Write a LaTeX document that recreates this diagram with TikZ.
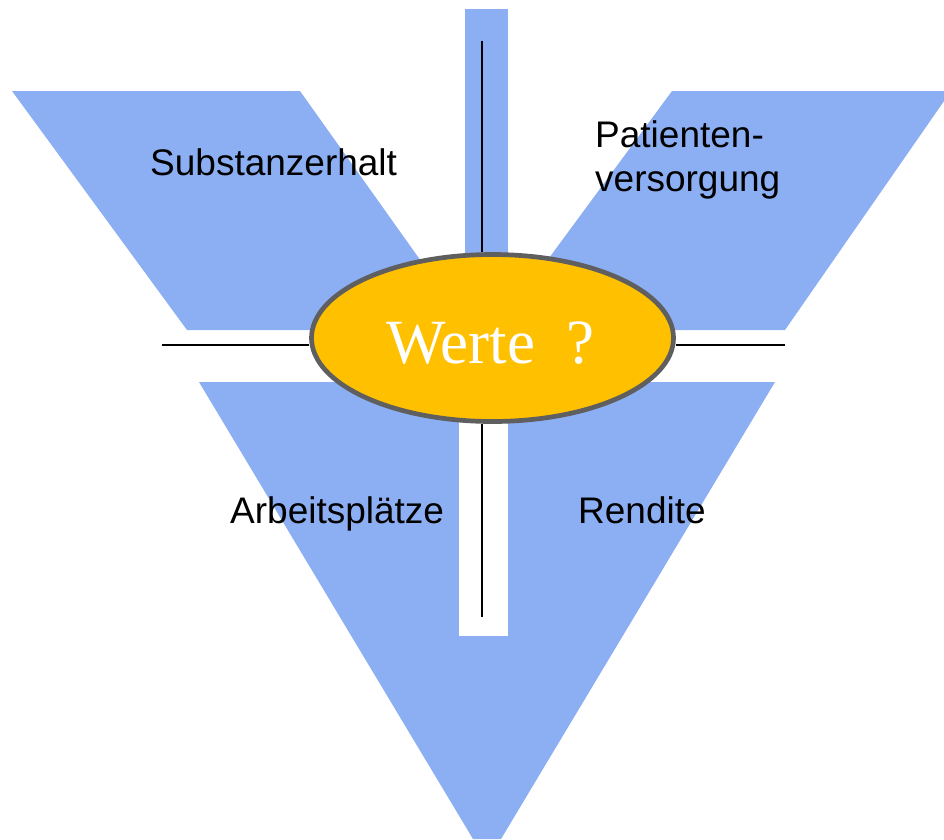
\documentclass[tikz,border=0pt]{standalone}
\usepackage{fontspec}
\setmainfont{Liberation Serif}
\newfontfamily\arialf{Liberation Sans}
\usetikzlibrary{shapes.geometric}
\definecolor{petal}{RGB}{140,175,244}
\definecolor{werteorange}{RGB}{255,192,0}
\definecolor{rimgray}{RGB}{95,95,95}
\pgfdeclarelayer{bg}
\pgfdeclarelayer{ln}
\pgfsetlayers{bg,ln,main}
\begin{document}
\begin{tikzpicture}[x=1pt,y=-1pt,
  petalfill/.style={fill=petal,draw=none},
  axisline/.style={draw=black,line width=1.6pt},
  lbl/.style={font=\arialf\fontsize{37}{44}\selectfont,anchor=base west,inner sep=0pt,text=black}]
\useasboundingbox (0,0) rectangle (944,839);

% centre ellipse
\node[ellipse,draw=rimgray,line width=4.7pt,fill=werteorange,
      minimum width=362pt,minimum height=167pt,inner sep=0pt] (ell) at (492.5,338) {};
\node[anchor=base west,inner sep=0pt,text=white,font=\fontsize{63}{70}\selectfont] (werte) at (386,363) {Werte\hspace{31pt}?};

% blue shapes
\begin{pgfonlayer}{bg}
  \fill[petalfill] (12,91) -- (300,91) -- (470,330) -- (187,330) -- cycle;
  \fill[petalfill] (672,91) -- (951,91) -- (785,330) -- (496,330) -- cycle;
  \fill[petalfill] (465,9) rectangle (508,330);
  \fill[petalfill] (199,382) -- (775,382) -- (501,839) -- (473,839) -- cycle;
  \fill[white] (459,382) rectangle (508,636);
\end{pgfonlayer}

% axis lines
\coordinate (vtop) at (482,41);
\coordinate (vbot) at (482,617);
\coordinate (hleft) at (162,345);
\coordinate (hright) at (785,345);
\begin{pgfonlayer}{ln}
  \draw[axisline] (vtop) -- (vtop |- ell.north);
  \draw[axisline] (vbot) -- (vbot |- ell.south);
  \draw[axisline] (hleft) -- (hleft -| ell.west);
  \draw[axisline] (hright) -- (hright -| ell.east);
\end{pgfonlayer}

% labels
\node[lbl] (subst) at (150,175) {Substanzerhalt};
\node[lbl] (pat1) at (595,147) {Patienten-};
\node[lbl] (pat2) at (595,191) {versorgung};
\node[lbl] (arb) at (230,523) {Arbeitsplätze};
\node[lbl] (rend) at (578,523) {Rendite};
\end{tikzpicture}
\end{document}
